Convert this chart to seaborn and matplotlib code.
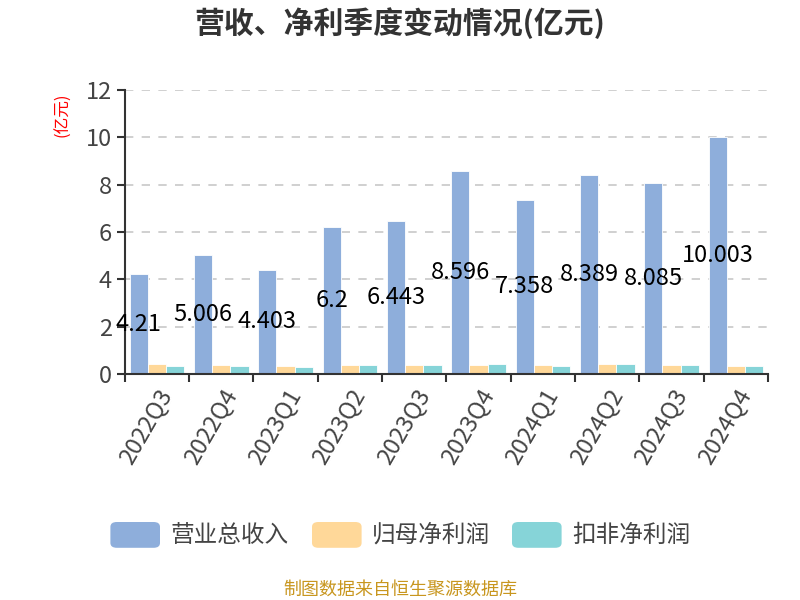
import seaborn as sns
import matplotlib.pyplot as plt
from matplotlib.ticker import MultipleLocator, FixedLocator
from matplotlib.patches import FancyBboxPatch
import pandas as pd

quarters = ["2022Q3", "2022Q4", "2023Q1", "2023Q2", "2023Q3",
            "2023Q4", "2024Q1", "2024Q2", "2024Q3", "2024Q4"]
revenue = [4.21, 5.006, 4.403, 6.2, 6.443, 8.596, 7.358, 8.389, 8.085, 10.003]
net_profit = [0.42, 0.37, 0.31, 0.39, 0.36, 0.36, 0.36, 0.41, 0.36, 0.33]
net_profit_ex = [0.35, 0.35, 0.29, 0.37, 0.36, 0.40, 0.35, 0.42, 0.36, 0.34]
series = ["营业总收入", "归母净利润", "扣非净利润"]
colors = ["#8eaedb", "#ffd899", "#86d4d8"]

df = pd.DataFrame({
    "quarter": quarters * 3,
    "value": revenue + net_profit + net_profit_ex,
    "series": [series[0]] * 10 + [series[1]] * 10 + [series[2]] * 10,
})

sns.set_style("white")
plt.rcParams['font.family'] = ['Noto Sans CJK SC', 'DejaVu Sans']

fig = plt.figure(figsize=(8, 6), dpi=100)
ax = fig.add_axes([0.156, 0.377, 0.804, 0.473])

sns.barplot(df, x="quarter", y="value", hue="series", palette=colors,
            width=0.85, ax=ax, legend=False, saturation=1)
for p in ax.patches:
    p.set_edgecolor("white")
    p.set_linewidth(0.6)

# value labels inside the revenue bars
for i, v in enumerate(revenue):
    ax.text(i - 0.283, v / 2, f"{v:g}", ha="center", va="center",
            fontsize=17, color="black")

ax.set_ylim(0, 12)
ax.set_xlim(-0.5, len(quarters) - 0.5)
ax.yaxis.set_major_locator(MultipleLocator(2))
ax.grid(axis="y", linestyle=(0, (5, 5)), color="#c8c8c8", linewidth=1.2)
ax.set_axisbelow(True)
for s in ["top", "right"]:
    ax.spines[s].set_visible(False)
for s in ["left", "bottom"]:
    ax.spines[s].set_color("#333333")
    ax.spines[s].set_linewidth(1.5)

ax.tick_params(axis="y", length=6, width=1.5, color="#333333",
               labelsize=17, labelcolor="#444444", left=True)
ax.tick_params(axis="x", which="major", length=0, labelsize=17,
               labelcolor="#444444", pad=8)
ax.xaxis.set_minor_locator(FixedLocator([i - 0.5 for i in range(len(quarters) + 1)]))
ax.tick_params(axis="x", which="minor", length=6, width=1.5,
               color="#333333", bottom=True)
plt.setp(ax.get_xticklabels(), rotation=60, ha="right", rotation_mode="anchor")
ax.set_xlabel("")
ax.set_ylabel("")

fig.text(0.079, 0.808, "(亿元)", color="red", fontsize=12, rotation=90,
         ha="center", va="center")
fig.text(0.5, 0.962, "营收、净利季度变动情况(亿元)", fontsize=21.5,
         fontweight="bold", color="#333333", ha="center", va="center")

# legend with rounded swatches
xs = [0.138, 0.39, 0.64]
for x, name, c in zip(xs, series, colors):
    fig.patches.append(FancyBboxPatch((x, 0.087), 0.062, 0.043,
                                      boxstyle="round,pad=0,rounding_size=0.008",
                                      transform=fig.transFigure, facecolor=c,
                                      edgecolor="none"))
    fig.text(x + 0.075, 0.108, name, fontsize=17, color="#444444",
             ha="left", va="center")

fig.text(0.5, 0.018, "制图数据来自恒生聚源数据库", fontsize=13,
         color="#c8961e", ha="center", va="center")

plt.savefig("out.png", dpi=100)
